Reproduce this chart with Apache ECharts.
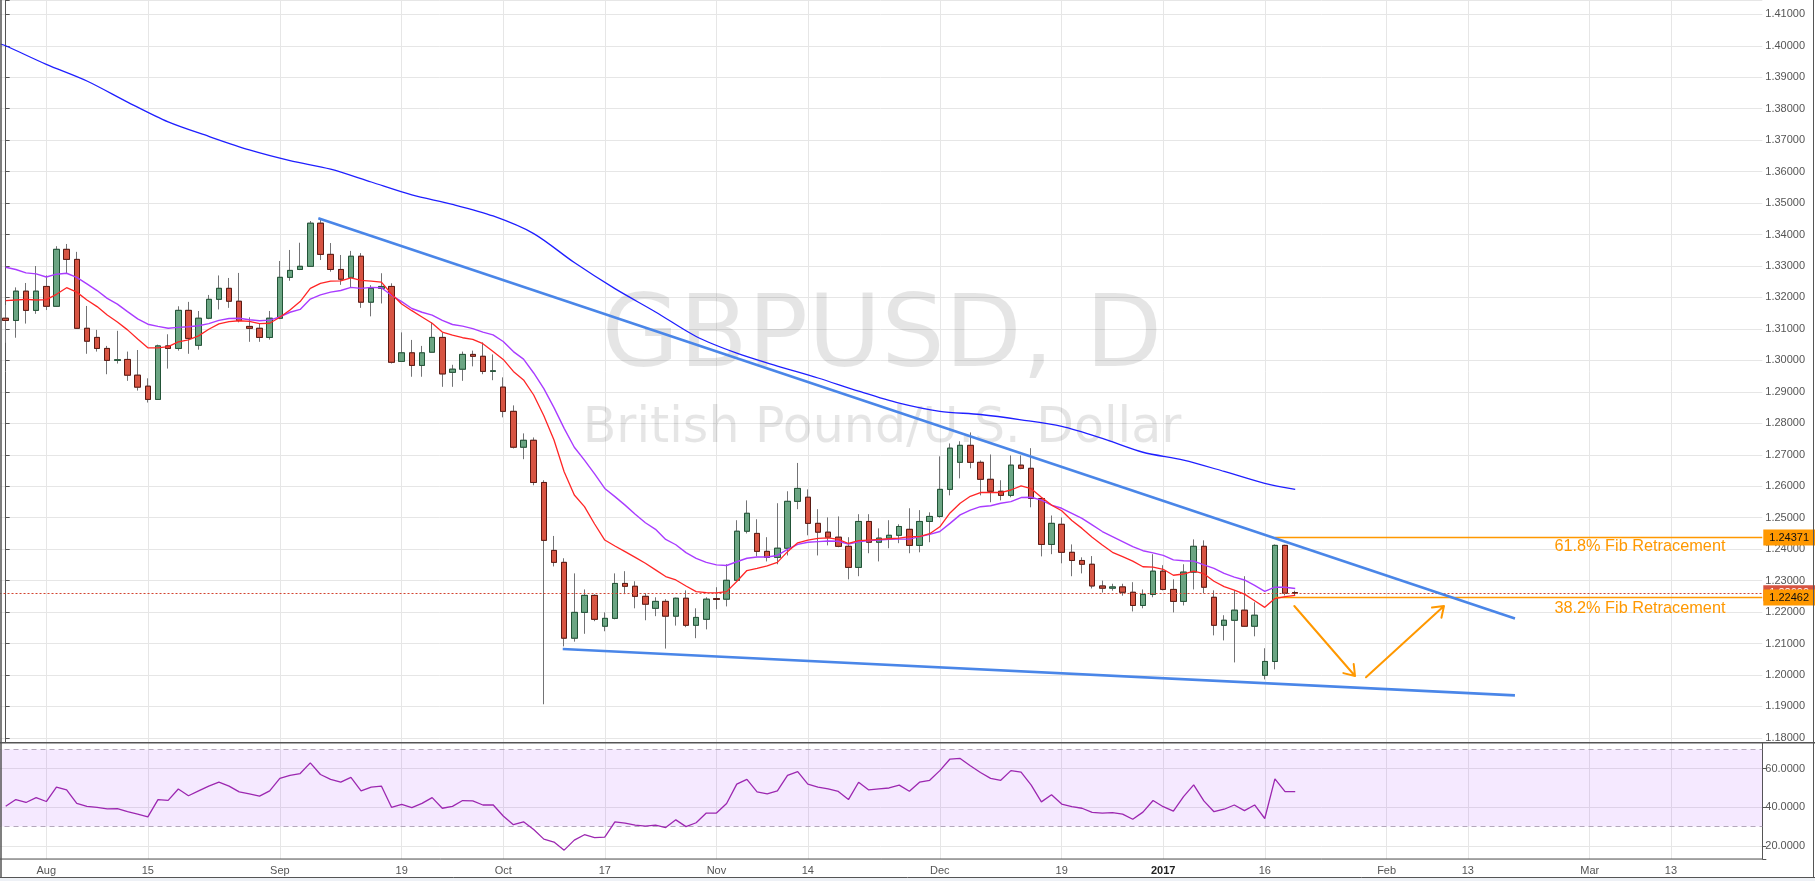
<!DOCTYPE html>
<html><head><meta charset="utf-8">
<script src="https://cdn.jsdelivr.net/npm/echarts@6/dist/echarts.min.js"></script>
<style>html,body{margin:0;padding:0;background:#fff}#c{width:1815px;height:881px}</style>
</head><body><div id="c"></div>
<script>
// ---------------- DATA ----------------
const firstCategory = '2016-07-25';   // leading (empty) weekday
const categoryCount = 175;            // weekdays Jul 25 2016 .. Mar 24 2017
const firstCandle = '2016-07-26';

const opens = [1.3134,1.3127,1.3220,1.3159,1.3235,1.3172,1.3353,1.3321,1.3102,1.3073,
1.3038,1.3000,1.3003,1.2953,1.2918,1.2876,1.3046,1.3038,1.3159,1.3048,
1.3134,1.3194,1.3229,1.3188,1.3108,1.3102,1.3073,1.3134,1.3264,1.3289,
1.3299,1.3436,1.3337,1.3289,1.3264,1.3331,1.3185,1.3229,1.3235,1.2997,
1.3024,1.2984,1.3026,1.3073,1.2962,1.2972,1.3019,1.3013,1.2965,1.2915,
1.2838,1.2724,1.2746,1.2612,1.2396,1.2358,1.2117,1.2199,1.2253,1.2155,
1.2180,1.2291,1.2282,1.2250,1.2212,1.2234,1.2187,1.2244,1.2158,1.2177,
1.2243,1.2241,1.2301,1.2457,1.2450,1.2393,1.2374,1.2403,1.2552,1.2565,
1.2482,1.2454,1.2438,1.2409,1.2342,1.2488,1.2422,1.2435,1.2444,1.2463,
1.2412,1.2488,1.2504,1.2590,1.2676,1.2730,1.2676,1.2622,1.2584,1.2571,
1.2667,1.2657,1.2561,1.2415,1.2479,1.2390,1.2364,1.2352,1.2283,1.2276,
1.2280,1.2263,1.2221,1.2256,1.2330,1.2272,1.2234,1.2327,1.2409,1.2247,
1.2158,1.2174,1.2206,1.2155,1.1999,1.2043,1.2412,1.2262];
const closes = [1.3127,1.3220,1.3159,1.3220,1.3172,1.3353,1.3321,1.3102,1.3061,1.3038,
1.3000,1.3002,1.2953,1.2915,1.2876,1.3046,1.3038,1.3159,1.3070,1.3134,
1.3194,1.3229,1.3188,1.3127,1.3102,1.3073,1.3134,1.3264,1.3286,1.3299,
1.3436,1.3337,1.3289,1.3258,1.3331,1.3185,1.3229,1.3235,1.2994,1.3024,
1.2984,1.3024,1.3073,1.2957,1.2972,1.3019,1.3013,1.2965,1.2967,1.2838,
1.2724,1.2746,1.2612,1.2428,1.2358,1.2117,1.2199,1.2253,1.2177,1.2180,
1.2291,1.2282,1.2250,1.2225,1.2234,1.2187,1.2244,1.2158,1.2183,1.2241,
1.2240,1.2301,1.2457,1.2514,1.2393,1.2374,1.2403,1.2552,1.2593,1.2482,
1.2454,1.2438,1.2409,1.2342,1.2488,1.2422,1.2435,1.2444,1.2472,1.2412,
1.2488,1.2504,1.2590,1.2721,1.2730,1.2676,1.2622,1.2584,1.2571,1.2667,
1.2657,1.2561,1.2415,1.2482,1.2390,1.2364,1.2352,1.2283,1.2276,1.2280,
1.2263,1.2221,1.2256,1.2330,1.2272,1.2234,1.2327,1.2409,1.2279,1.2158,
1.2174,1.2206,1.2155,1.2190,1.2043,1.2412,1.2260,1.2260];
const lows = [1.3056,1.3072,1.3117,1.3148,1.3160,1.3170,1.3277,1.3100,1.3021,1.3028,
1.2956,1.2990,1.2935,1.2904,1.2866,1.2876,1.2974,1.3031,1.3021,1.3034,
1.3131,1.3162,1.3167,1.3121,1.3059,1.3059,1.3066,1.3131,1.3253,1.3287,
1.3297,1.3319,1.3282,1.3240,1.3232,1.3167,1.3140,1.3181,1.2990,1.2995,
1.2948,1.2948,1.3026,1.2916,1.2916,1.2935,1.2981,1.2956,1.2937,1.2819,
1.2720,1.2686,1.2603,1.1907,1.2345,1.2091,1.2106,1.2131,1.2171,1.2139,
1.2177,1.2257,1.2212,1.2174,1.2187,1.2084,1.2157,1.2152,1.2117,1.2145,
1.2209,1.2218,1.2298,1.2450,1.2377,1.2361,1.2352,1.2380,1.2527,1.2444,
1.2380,1.2412,1.2406,1.2304,1.2314,1.2387,1.2361,1.2403,1.2419,1.2387,
1.2390,1.2422,1.2500,1.2571,1.2625,1.2657,1.2571,1.2549,1.2555,1.2565,
1.2654,1.2533,1.2377,1.2384,1.2355,1.2314,1.2323,1.2275,1.2262,1.2268,
1.2252,1.2202,1.2212,1.2247,1.2269,1.2199,1.2221,1.2272,1.2260,1.2126,
1.2110,1.2040,1.2153,1.2123,1.1986,1.2018,1.2253,1.2252];
const highs = [1.3176,1.3232,1.3246,1.3300,1.3270,1.3363,1.3370,1.3345,1.3173,1.3097,
1.3046,1.3094,1.3028,1.3033,1.2943,1.3050,1.3083,1.3172,1.3186,1.3157,
1.3208,1.3270,1.3262,1.3278,1.3137,1.3118,1.3157,1.3316,1.3351,1.3374,
1.3443,1.3452,1.3373,1.3335,1.3348,1.3341,1.3239,1.3277,1.3245,1.3089,
1.3065,1.3046,1.3121,1.3087,1.2986,1.3028,1.3031,1.3057,1.3019,1.2946,
1.2857,1.2768,1.2755,1.2619,1.2442,1.2371,1.2323,1.2272,1.2256,1.2199,
1.2323,1.2330,1.2298,1.2260,1.2247,1.2241,1.2246,1.2269,1.2212,1.2247,
1.2279,1.2352,1.2492,1.2555,1.2495,1.2438,1.2546,1.2584,1.2674,1.2590,
1.2527,1.2501,1.2504,1.2438,1.2511,1.2511,1.2466,1.2492,1.2479,1.2530,
1.2524,1.2517,1.2695,1.2736,1.2743,1.2771,1.2682,1.2701,1.2619,1.2698,
1.2698,1.2721,1.2563,1.2507,1.2501,1.2415,1.2374,1.2378,1.2300,1.2290,
1.2290,1.2295,1.2272,1.2384,1.2349,1.2304,1.2352,1.2431,1.2428,1.2269,
1.2190,1.2269,1.2314,1.2231,1.2085,1.2415,1.2414,1.2268];

// short moving average (red)
const maFast = [1.3190,1.3192,1.3194,1.3192,1.3193,1.3210,1.3231,1.3217,1.3192,1.3171,
1.3144,1.3122,1.3097,1.3068,1.3040,1.3040,1.3044,1.3059,1.3065,1.3078,
1.3099,1.3116,1.3123,1.3126,1.3124,1.3117,1.3118,1.3137,1.3160,1.3187,
1.3229,1.3245,1.3252,1.3253,1.3262,1.3254,1.3252,1.3249,1.3211,1.3179,
1.3158,1.3138,1.3118,1.3090,1.3080,1.3072,1.3067,1.3053,1.3028,1.3003,
1.2965,1.2938,1.2890,1.2824,1.2747,1.2646,1.2572,1.2535,1.2480,1.2429,
1.2410,1.2392,1.2374,1.2355,1.2334,1.2313,1.2302,1.2283,1.2265,1.2262,
1.2261,1.2265,1.2297,1.2332,1.2339,1.2347,1.2358,1.2392,1.2420,1.2429,
1.2434,1.2436,1.2431,1.2418,1.2427,1.2429,1.2431,1.2433,1.2435,1.2440,
1.2440,1.2449,1.2471,1.2515,1.2546,1.2568,1.2580,1.2580,1.2580,1.2588,
1.2601,1.2592,1.2565,1.2540,1.2522,1.2491,1.2466,1.2438,1.2413,1.2390,
1.2376,1.2362,1.2344,1.2343,1.2336,1.2317,1.2321,1.2330,1.2322,1.2298,
1.2281,1.2270,1.2257,1.2236,1.2215,1.2243,1.2249,1.2253];
// medium moving average (purple)
const maMid = [1.3296,1.3289,1.3278,1.3275,1.3265,1.3274,1.3277,1.3264,1.3243,1.3222,
1.3197,1.3179,1.3155,1.3132,1.3115,1.3108,1.3102,1.3105,1.3107,1.3110,
1.3117,1.3127,1.3133,1.3134,1.3129,1.3126,1.3128,1.3138,1.3153,1.3162,
1.3195,1.3208,1.3217,1.3222,1.3232,1.3229,1.3232,1.3231,1.3207,1.3187,
1.3165,1.3153,1.3144,1.3127,1.3114,1.3109,1.3101,1.3090,1.3081,1.3060,
1.3028,1.3004,1.2960,1.2910,1.2850,1.2784,1.2724,1.2683,1.2639,1.2593,
1.2567,1.2540,1.2511,1.2484,1.2463,1.2431,1.2414,1.2389,1.2371,1.2358,
1.2350,1.2348,1.2360,1.2371,1.2375,1.2375,1.2380,1.2399,1.2415,1.2422,
1.2424,1.2426,1.2425,1.2416,1.2423,1.2427,1.2429,1.2431,1.2432,1.2432,
1.2440,1.2447,1.2456,1.2482,1.2509,1.2524,1.2535,1.2538,1.2546,1.2551,
1.2564,1.2565,1.2556,1.2540,1.2530,1.2514,1.2498,1.2477,1.2456,1.2440,
1.2424,1.2408,1.2395,1.2388,1.2380,1.2366,1.2363,1.2362,1.2350,1.2339,
1.2323,1.2311,1.2302,1.2285,1.2266,1.2279,1.2279,1.2275];
// long moving average (blue), read at [candle index, value]
const maSlow = [[-0.5,1.4005],[0,1.4000],[4,1.3941],[8,1.3888],[12,1.3821],[16,1.3758],[20,1.3712],
[24,1.3669],[28,1.3635],[32,1.3608],[36,1.3567],[40,1.3526],[44,1.3496],[48,1.3459],[52,1.3403],
[56,1.3311],[60,1.3228],[64,1.3154],[68,1.3076],[72,1.3023],[76,1.2982],[80,1.2944],[84,1.2902],
[88,1.2864],[92,1.2838],[96,1.2828],[100,1.2811],[104,1.2790],[108,1.2752],[112,1.2708],
[116,1.2683],[120,1.2647],[124,1.2609],[127,1.2590]];

const rsi = [40.5,44,42.5,45,43,50.5,49,42,40.5,40,
39.2,39.3,37.8,36.5,35,44,43.6,49.5,46,48.5,
51,53,51,48,47,45.8,48.5,55,56.5,57.5,
63,57,54.5,53,55.5,48.5,50.5,51,40,41.5,
39.8,42,45,39.5,40.5,43.5,43.3,41.2,41.3,35.5,
31,32.5,28.5,23.5,22,17.8,23,25.8,24.3,24.5,
32.5,31.8,30.8,30.2,30.8,29.5,33.5,30,32,37,
37,42,52,54.5,48,47,48.5,56.5,58.5,52,
50.5,49.5,48.2,44,53,49,49.5,50,51.5,48.3,
53,54,59,65,65.3,61.5,58,55,54,59,
58.2,51.5,42.8,46.5,41.7,40.3,39.5,37.4,37,37.2,
36.5,33.8,37.5,43.5,40.3,38,45.5,51.6,43.3,37.7,
39,41.2,38.3,41.2,34.2,54.7,48.1,48.1];
const rsiBand = [30, 70];

// drawn trend lines / arrows, as [candle index, price]
const upperTrend = [[30.79,1.34516],[148.64,1.21796]];
const lowerTrend = [[54.86,1.20826],[148.64,1.19351]];
const arrowDown = [[126.91,1.22193],[132.89,1.19968],[132.76,1.20346],[132.89,1.19968],[131.74,1.20060]];
const arrowUp = [[133.97,1.19927],[141.65,1.22193],[140.47,1.22142],[141.65,1.22193],[141.40,1.21821]];

const fibLevels = [1.24371, 1.22462];
const fibStart = '2017-01-17';
const fibTexts = ['61.8% Fib Retracement', '38.2% Fib Retracement'];
const fibTextPos = [[160.95,1.24078],[160.95,1.22107]];

const xTickDates = ['2016-08-01','2016-08-15','2016-09-01','2016-09-19','2016-10-03','2016-10-17','2016-11-01','2016-11-14',
'2016-12-01','2016-12-19','2017-01-02','2017-01-16','2017-02-01','2017-02-13','2017-03-01','2017-03-13'];
const xTickLabels = ['Aug','15','Sep','19','Oct','17','Nov','14','Dec','19','2017','16','Feb','13','Mar','13'];

const priceMin = 1.17848, priceMax = 1.41455;
const rsiMin = 13.21, rsiMax = 73.47;

// ---------------- BUILD ----------------
function weekdays(start, n) {
  const out = []; const d = new Date(start + 'T00:00:00Z');
  while (out.length < n) {
    const w = d.getUTCDay();
    if (w !== 0 && w !== 6) out.push(d.toISOString().slice(0, 10));
    d.setUTCDate(d.getUTCDate() + 1);
  }
  return out;
}
const cats = weekdays(firstCategory, categoryCount);
const lead = cats.indexOf(firstCandle);
const blanks = n => Array.from({length: n}, () => '-');
const wickData = blanks(lead).map(() => ['-','-','-','-']).concat(opens.map((o, i) => [o, closes[i], lows[i], highs[i]]));
const bodyData = blanks(lead).map(() => ['-','-','-','-']).concat(opens.map((o, i) => [o, closes[i], Math.min(o, closes[i]), Math.max(o, closes[i])]));
const lastClose = closes[closes.length - 1];
const tickSet = new Set(xTickDates);
const showTick = (idx, val) => tickSet.has(val);
const gridColor = '#e6e6e6';
const axisColor = '#555';
const font = 'Liberation Sans, Arial, sans-serif';
const W = 1815, L = -4.47, R = 52.7;
const lastCat = cats[cats.length - 1];

const chart = echarts.init(document.getElementById('c'), null, {renderer: 'canvas'});
chart.setOption({
  animation: false,
  backgroundColor: '#ffffff',
  grid: [
    {left: L, right: R, top: 0, height: 742.7, outerBoundsMode: 'none', containLabel: false},
    {left: L, right: R, top: 742.7, height: 116.3, outerBoundsMode: 'none', containLabel: false}
  ],
  xAxis: [
    {type: 'category', gridIndex: 0, data: cats, boundaryGap: false,
     axisLine: {show: false}, axisTick: {show: false}, axisLabel: {show: false},
     splitLine: {show: true, interval: showTick, lineStyle: {color: gridColor, width: 1}}},
    {type: 'category', gridIndex: 1, data: cats, boundaryGap: false,
     axisLine: {show: false}, axisTick: {show: false, interval: showTick},
     axisLabel: {show: true, interval: showTick, margin: 6, color: axisColor, fontSize: 11, fontFamily: font,
       formatter: v => { const t = xTickLabels[xTickDates.indexOf(v)]; return t === '2017' ? '{b|2017}' : t; },
       rich: {b: {fontWeight: 'bold', color: '#222', fontSize: 11, fontFamily: font}}},
     splitLine: {show: true, interval: showTick, lineStyle: {color: gridColor, width: 1}}},
    {type: 'value', gridIndex: 0, min: -lead, max: categoryCount - 1 - lead, show: false}
  ],
  yAxis: [
    {type: 'value', gridIndex: 0, position: 'right', min: priceMin, max: priceMax,
     splitNumber: 24, minInterval: 0.01, maxInterval: 0.01, scale: true,
     axisLine: {show: true, lineStyle: {color: axisColor, width: 1}},
     axisTick: {show: true, length: 4, lineStyle: {color: axisColor}},
     axisLabel: {color: axisColor, fontSize: 11, fontFamily: font, margin: 3,
       formatter: v => { const r = Math.round(v * 100); return Math.abs(v * 100 - r) < 1e-6 ? (r / 100).toFixed(5) : ''; }},
     splitLine: {show: true, lineStyle: {color: gridColor, width: 1}}},
    {type: 'value', gridIndex: 1, position: 'right', min: rsiMin, max: rsiMax,
     splitNumber: 3, minInterval: 20, maxInterval: 20, scale: true,
     axisLine: {show: true, lineStyle: {color: axisColor, width: 1}},
     axisTick: {show: true, length: 4, lineStyle: {color: axisColor}},
     axisLabel: {color: axisColor, fontSize: 11, fontFamily: font, margin: 3,
       formatter: v => { const r = Math.round(v / 20) * 20; return Math.abs(v - r) < 1e-6 ? v.toFixed(4) : ''; }},
     splitLine: {show: true, lineStyle: {color: gridColor, width: 1}}}
  ],
  graphic: [
    {type: 'text', z: 1, silent: true, style: {text: 'GBPUSD, D', x: 882, y: 340, align: 'center', verticalAlign: 'middle',
      fontSize: 100, fontFamily: 'DejaVu Sans', fill: 'rgba(0,0,0,0.1)'}},
    {type: 'text', z: 1, silent: true, style: {text: 'British Pound/U.S. Dollar', x: 882, y: 429, align: 'center', verticalAlign: 'middle',
      fontSize: 49, fontFamily: 'DejaVu Sans', fill: 'rgba(0,0,0,0.1)'}},
    {type: 'rect', z: 100, silent: true, shape: {x: 0, y: 878, width: W, height: 3}, style: {fill: '#eef1f6'}},
    {type: 'line', z: 100, silent: true, shape: {x1: 1, y1: 0, x2: 1, y2: 878}, style: {stroke: axisColor, lineWidth: 1.5}},
    {type: 'line', z: 100, silent: true, shape: {x1: 0, y1: 742.7, x2: W, y2: 742.7}, style: {stroke: axisColor, lineWidth: 1.5}},
    {type: 'line', z: 100, silent: true, shape: {x1: 0, y1: 859, x2: 1762.3, y2: 859}, style: {stroke: axisColor, lineWidth: 1}},
    {type: 'line', z: 100, silent: true, shape: {x1: 0, y1: 877.5, x2: W, y2: 877.5}, style: {stroke: axisColor, lineWidth: 1}},
    {type: 'line', z: 100, silent: true, shape: {x1: 1813.5, y1: 0, x2: 1813.5, y2: 878}, style: {stroke: axisColor, lineWidth: 1}}
  ],
  series: [
    {type: 'candlestick', name: 'wicks', xAxisIndex: 0, yAxisIndex: 0, data: wickData, barWidth: 6, z: 2, silent: true,
     itemStyle: {color: '#6ba583', color0: '#d75442', borderColor: '#737375', borderColor0: '#737375', borderColorDoji: '#737375', borderWidth: 1}},
    {type: 'candlestick', name: 'bodies', xAxisIndex: 0, yAxisIndex: 0, data: bodyData, barWidth: 6, z: 3, silent: true,
     itemStyle: {color: '#6ba583', color0: '#d75442', borderColor: '#225437', borderColor0: '#5b1a13', borderColorDoji: '#5b1a13', borderWidth: 1}},
    {type: 'line', name: 'maMid', xAxisIndex: 0, yAxisIndex: 0, data: blanks(lead).concat(maMid), showSymbol: false, z: 4, silent: true,
     lineStyle: {color: '#a93cff', width: 1.4}},
    {type: 'line', name: 'maFast', xAxisIndex: 0, yAxisIndex: 0, data: blanks(lead).concat(maFast), showSymbol: false, z: 5, silent: true,
     lineStyle: {color: '#ff2626', width: 1.3},
     markLine: {silent: true, symbol: ['none', 'none'], animation: false, precision: 5,
       data: [
         [{coord: [cats[0], lastClose], lineStyle: {color: '#d2432f', type: [2, 2], width: 1},
           label: {show: true, position: 'end', distance: 1, formatter: lastClose.toFixed(5), backgroundColor: '#d75442',
                   color: '#ffffff', fontSize: 11, fontFamily: font, padding: [3, 8, 2, 6]}},
          {coord: [lastCat, lastClose]}],
         [{coord: [fibStart, fibLevels[0]], lineStyle: {color: '#ff9800', type: 'solid', width: 1.3},
           label: {show: true, position: 'end', distance: 1, formatter: fibLevels[0].toFixed(5), backgroundColor: '#ff9800',
                   color: '#111', fontSize: 11, fontFamily: font, padding: [3, 8, 2, 6]}},
          {coord: [lastCat, fibLevels[0]]}],
         [{coord: [fibStart, fibLevels[1]], lineStyle: {color: '#ff9800', type: 'solid', width: 1.3},
           label: {show: true, position: 'end', distance: 1, formatter: fibLevels[1].toFixed(5), backgroundColor: '#ff9800',
                   color: '#111', fontSize: 11, fontFamily: font, padding: [3, 8, 2, 6]}},
          {coord: [lastCat, fibLevels[1]]}]
       ]}},
    {type: 'line', name: 'maSlow', xAxisIndex: 2, yAxisIndex: 0, data: maSlow, showSymbol: false, smooth: 0.3, z: 4, silent: true,
     lineStyle: {color: '#1f1fff', width: 1.3}},
    {type: 'line', name: 'upperTrend', xAxisIndex: 2, yAxisIndex: 0, data: upperTrend, showSymbol: false, z: 6, silent: true,
     lineStyle: {color: '#4a86e8', width: 2.6}},
    {type: 'line', name: 'lowerTrend', xAxisIndex: 2, yAxisIndex: 0, data: lowerTrend, showSymbol: false, z: 6, silent: true,
     lineStyle: {color: '#4a86e8', width: 2.6}},
    {type: 'line', name: 'arrowDown', xAxisIndex: 2, yAxisIndex: 0, data: arrowDown, showSymbol: false, z: 6, silent: true,
     lineStyle: {color: '#ff9800', width: 2, cap: 'round', join: 'round'}},
    {type: 'line', name: 'arrowUp', xAxisIndex: 2, yAxisIndex: 0, data: arrowUp, showSymbol: false, z: 6, silent: true,
     lineStyle: {color: '#ff9800', width: 2, cap: 'round', join: 'round'}},
    {type: 'scatter', name: 'fibText', xAxisIndex: 2, yAxisIndex: 0, symbolSize: 2, z: 7, silent: true,
     itemStyle: {color: 'rgba(255,255,255,0)'},
     data: fibTextPos.map((p, i) => ({value: p, name: fibTexts[i]})),
     label: {show: true, position: 'inside', formatter: '{b}', color: '#ff9800', fontSize: 16.3, fontFamily: font,
             textBorderWidth: 0, opacity: 1}},
    {type: 'line', name: 'RSI', xAxisIndex: 1, yAxisIndex: 1, data: blanks(lead).concat(rsi), showSymbol: false, z: 5, silent: true,
     lineStyle: {color: '#9c27b0', width: 1.3},
     markArea: {silent: true, itemStyle: {color: 'rgba(156,39,255,0.1)'}, data: [[{yAxis: rsiBand[0]}, {yAxis: rsiBand[1]}]]},
     markLine: {silent: true, symbol: ['none', 'none'], label: {show: false}, precision: 5,
       lineStyle: {color: '#b4a8bc', type: [5, 4], width: 1},
       data: [{yAxis: rsiBand[1]}, {yAxis: rsiBand[0]}]}}
  ]
});
</script>
</body></html>
